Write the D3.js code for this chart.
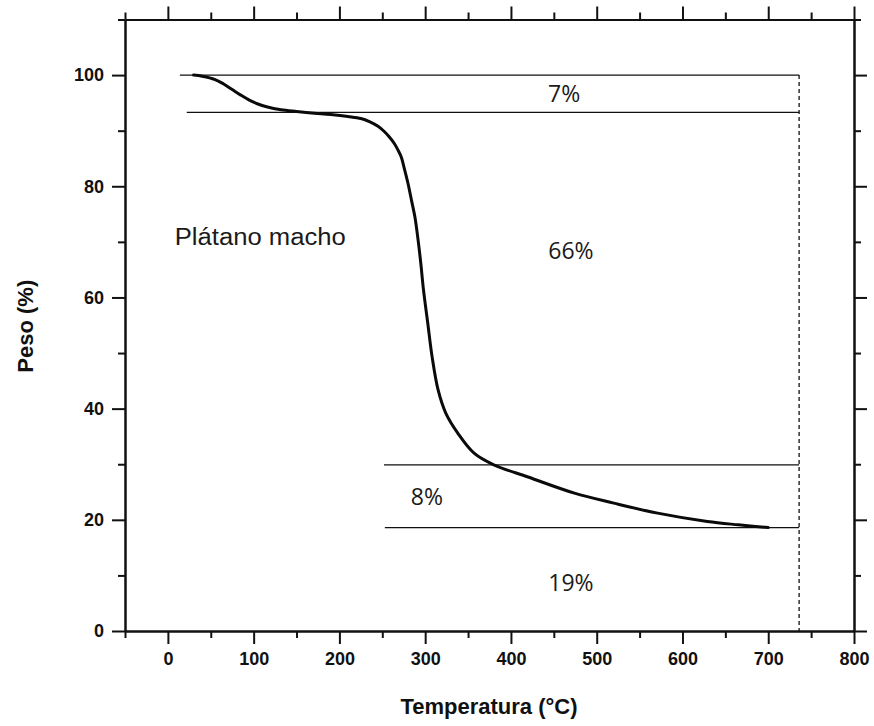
<!DOCTYPE html>
<html>
<head>
<meta charset="utf-8">
<script src="https://cdn.jsdelivr.net/npm/d3@7"></script>
<style>
  html, body { margin: 0; padding: 0; background: #fff; }
  svg { display: block; }
  .tick text { font-family: "Liberation Sans", Arial, sans-serif; font-weight: bold; font-size: 18px; fill: #111; }
</style>
</head>
<body>
<svg id="chart" width="874" height="726"></svg>
<script>
// Thermogravimetric curve: temperature (°C) vs. remaining weight (%)
const tempC = [30, 40, 55, 65, 75, 85, 95, 105, 115, 132, 150, 171, 190, 210, 225, 235, 245, 252, 258, 264, 268, 272, 276, 280, 284, 288, 292, 295, 298, 303, 308, 315, 324, 338, 357, 380, 420, 474, 520, 571, 629, 665, 700];
const weightPct = [100.0, 99.8, 99.2, 98.4, 97.4, 96.4, 95.5, 94.8, 94.3, 93.75, 93.45, 93.15, 92.9, 92.55, 92.2, 91.65, 90.8, 89.9, 88.9, 87.7, 86.6, 85.3, 83.0, 80.5, 77.5, 74.5, 70.0, 66.0, 61.4, 55.4, 49.4, 43.4, 39.2, 35.6, 32.0, 29.9, 27.7, 24.8, 23.0, 21.2, 19.7, 19.1, 18.6];

// Weight-loss stage boundaries (horizontal reference lines)
const stageLevels = [100, 93.3, 29.9, 18.6];
const stageStartTemp = [14, 22, 252, 253];
const stageEndTemp = 736;

// Stage percentages and where they sit (temperature, weight)
const stageLabels = ["7%", "66%", "8%", "19%"];
const stageLabelTemp = [462, 470, 302, 470];
const stageLabelWeight = [95.2, 66.9, 22.7, 7.25];

const sampleName = "Plátano macho";
const sampleAt = [8, 69.5];

// Axis ticks
const xMajor = [0, 100, 200, 300, 400, 500, 600, 700, 800];
const xMinor = [-50, 50, 150, 250, 350, 450, 550, 650, 750];
const yMajor = [0, 20, 40, 60, 80, 100];
const yMinor = [10, 30, 50, 70, 90, 110];

const xTitle = "Temperatura (°C)";
const yTitle = "Peso (%)";

const margin = { left: 125, top: 19.5, right: 20, bottom: 95 };
const W = 874, H = 726;

const svg = d3.select("#chart");

const x = d3.scaleLinear().domain([-50, 800]).range([margin.left, W - margin.right]);
const y = d3.scaleLinear().domain([0, 110]).range([H - margin.bottom, margin.top]);

const x0 = x.range()[0], x1 = x.range()[1];
const y0 = y.range()[0], y1 = y.range()[1];

function styleAxis(g) {
  g.select(".domain").attr("stroke", "#111").attr("stroke-width", 2);
  g.selectAll(".tick line").attr("stroke", "#111").attr("stroke-width", 2);
}

// Bottom axis
svg.append("g").attr("transform", `translate(0,${y0})`)
  .call(d3.axisBottom(x).tickValues(xMinor).tickSize(7).tickSizeOuter(0).tickFormat(""))
  .call(styleAxis);
svg.append("g").attr("transform", `translate(0,${y0})`)
  .call(d3.axisBottom(x).tickValues(xMajor).tickSize(13).tickPadding(8).tickSizeOuter(0).tickFormat(d3.format("d")))
  .call(styleAxis);

// Top axis
svg.append("g").attr("transform", `translate(0,${y1})`)
  .call(d3.axisTop(x).tickValues(xMinor).tickSize(7).tickSizeOuter(0).tickFormat(""))
  .call(styleAxis);
svg.append("g").attr("transform", `translate(0,${y1})`)
  .call(d3.axisTop(x).tickValues(xMajor).tickSize(13).tickSizeOuter(0).tickFormat(""))
  .call(styleAxis);

// Left axis
svg.append("g").attr("transform", `translate(${x0},0)`)
  .call(d3.axisLeft(y).tickValues(yMinor).tickSize(7).tickSizeOuter(0).tickFormat(""))
  .call(styleAxis);
svg.append("g").attr("transform", `translate(${x0},0)`)
  .call(d3.axisLeft(y).tickValues(yMajor).tickSize(13).tickPadding(8).tickSizeOuter(0).tickFormat(d3.format("d")))
  .call(styleAxis);

// Right axis
svg.append("g").attr("transform", `translate(${x1},0)`)
  .call(d3.axisRight(y).tickValues(yMinor).tickSize(7).tickSizeOuter(0).tickFormat(""))
  .call(styleAxis);
svg.append("g").attr("transform", `translate(${x1},0)`)
  .call(d3.axisRight(y).tickValues(yMajor).tickSize(13).tickSizeOuter(0).tickFormat(""))
  .call(styleAxis);

// Axis titles
svg.append("text")
  .attr("x", 489).attr("y", 714)
  .attr("text-anchor", "middle")
  .attr("font-family", "Liberation Sans, Arial, sans-serif")
  .attr("font-weight", "bold").attr("font-size", 22)
  .attr("fill", "#111")
  .text(xTitle);

svg.append("text")
  .attr("transform", `translate(33,${(y0 + y1) / 2 + 1}) rotate(-90)`)
  .attr("text-anchor", "middle")
  .attr("font-family", "Liberation Sans, Arial, sans-serif")
  .attr("font-weight", "bold").attr("font-size", 22)
  .attr("fill", "#111")
  .text(yTitle);

// Stage reference lines
const refs = svg.append("g");
stageLevels.forEach((lvl, i) => {
  refs.append("line")
    .attr("x1", x(stageStartTemp[i])).attr("x2", x(stageEndTemp))
    .attr("y1", y(lvl)).attr("y2", y(lvl))
    .attr("stroke", "#111").attr("stroke-width", 1.3);
});
refs.append("line")
  .attr("x1", x(stageEndTemp)).attr("x2", x(stageEndTemp))
  .attr("y1", y(stageLevels[0])).attr("y2", y0)
  .attr("stroke", "#111").attr("stroke-width", 1.3)
  .attr("stroke-dasharray", "4,3");

// TGA curve
const line = d3.line()
  .x((d, i) => x(tempC[i]))
  .y(d => y(d))
  .curve(d3.curveCatmullRom.alpha(0.5));

svg.append("path")
  .attr("d", line(weightPct))
  .attr("fill", "none")
  .attr("stroke", "#0a0a0a")
  .attr("stroke-width", 3)
  .attr("stroke-linejoin", "round")
  .attr("stroke-linecap", "round");

// Stage percentages
stageLabels.forEach((t, i) => {
  svg.append("text")
    .attr("x", x(stageLabelTemp[i])).attr("y", y(stageLabelWeight[i]))
    .attr("text-anchor", "middle")
    .attr("font-family", "Open Sans, Noto Sans, sans-serif")
    .attr("font-size", 23)
    .attr("fill", "#1a1a1a")
    .text(t);
});

// Sample name
svg.append("text")
  .attr("x", x(sampleAt[0])).attr("y", y(sampleAt[1]))
  .attr("font-family", "Liberation Sans, Arial, sans-serif")
  .attr("font-size", 23)
  .attr("textLength", 171).attr("lengthAdjust", "spacingAndGlyphs")
  .attr("fill", "#1a1a1a")
  .text(sampleName);
</script>
</body>
</html>
